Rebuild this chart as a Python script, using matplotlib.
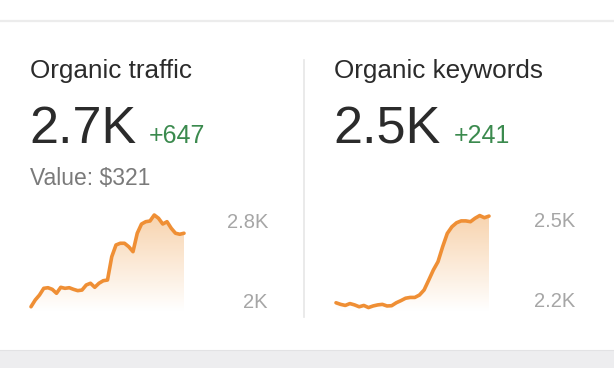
import matplotlib
matplotlib.use("Agg")
import matplotlib.pyplot as plt
import numpy as np
from matplotlib.colors import LinearSegmentedColormap

plt.rcParams['font.family'] = ['Liberation Sans', 'DejaVu Sans']

# organic traffic sparkline
traffic = [1963, 2030, 2079, 2145, 2151, 2135, 2096, 2155, 2145, 2151,
           2135, 2122, 2128, 2178, 2195, 2155, 2195, 2220, 2227, 2457,
           2573, 2590, 2590, 2556, 2507, 2689, 2780, 2803, 2810, 2869,
           2837, 2780, 2803, 2738, 2689, 2679, 2689]
traffic_ticks = [2800, 2000]
traffic_tick_labels = ["2.8K", "2K"]

# organic keywords sparkline
keywords = [2196, 2190, 2186, 2193, 2188, 2181, 2186, 2178, 2184, 2188,
            2190, 2184, 2185, 2196, 2204, 2213, 2216, 2216, 2225, 2244,
            2281, 2319, 2350, 2406, 2456, 2481, 2496, 2503, 2503, 2500,
            2513, 2523, 2515, 2521]
keyword_ticks = [2500, 2200]
keyword_tick_labels = ["2.5K", "2.2K"]

titles = ["Organic traffic", "Organic keywords"]
totals = ["2.7K", "2.5K"]
changes = ["+647", "+241"]
value_label = "Value: $321"

W, H = 614, 368
fig = plt.figure(figsize=(W / 100, H / 100), dpi=100)
fig.patch.set_facecolor("white")


def px(x, y):
    # pixel coords (top-left origin) -> figure fraction
    return x / W, 1 - y / H


def add_ax(x0, y0, x1, y1):
    return fig.add_axes([x0 / W, 1 - y1 / H, (x1 - x0) / W, (y1 - y0) / H])


# background pieces
bg = fig.add_axes([0, 0, 1, 1], zorder=-5)
bg.set_xlim(0, W)
bg.set_ylim(H, 0)
bg.axis("off")
bg.axhline(20.5, color="#ececec", lw=1.6)
bg.axhspan(350, H, color="#ededef", lw=0)
bg.axhline(350, color="#e2e2e4", lw=0.8)
bg.plot([304, 304], [60, 317], color="#e6e6e6", lw=1.2)

orange = "#ef8f35"
fade = LinearSegmentedColormap.from_list("fade", ["#ffffff", "#f8d4af"])


def spark(ax, vals, ticks, labels, ylim, label_x):
    x = np.arange(len(vals))
    ax.set_xlim(0, len(vals) - 1)
    ax.set_ylim(*ylim)
    ax.axis("off")
    poly = ax.fill_between(x, vals, ylim[0], color="none", lw=0)
    grad = np.linspace(0, 1, 200).reshape(-1, 1)
    img = ax.imshow(grad, cmap=fade, aspect="auto", origin="lower",
                    extent=[0, len(vals) - 1, ylim[0] + (ylim[1] - ylim[0]) * 0.08, max(vals)],
                    zorder=1)
    img.set_clip_path(poly.get_paths()[0], transform=ax.transData)
    ax.plot(x, vals, color=orange, lw=2.6, solid_capstyle="round",
            solid_joinstyle="round", zorder=3, clip_on=False)
    for t, lab in zip(ticks, labels):
        ax.text(label_x, t, lab, transform=ax.get_yaxis_transform(),
                ha="right", va="center", fontsize=14.5, color="#a6a6a6")


ax1 = add_ax(31, 205, 184, 320)
spark(ax1, traffic, traffic_ticks, traffic_tick_labels,
      (2000 - 17 * 800 / 81, 2000 + 98 * 800 / 81), (268 - 31) / (184 - 31))

ax2 = add_ax(336, 205, 489, 320)
spark(ax2, keywords, keyword_ticks, keyword_tick_labels,
      (2200 - 18.3 * 3.75, 2200 + 96.7 * 3.75), (575 - 336) / (489 - 336))

# header texts
for xs, xc, title, total, change in zip([30, 334], [149, 454], titles, totals, changes):
    fig.text(*px(xs, 78), title, fontsize=18.8, color="#2b2b2b", va="baseline")
    fig.text(*px(xs - 1, 143), total, fontsize=37.5, color="#2b2b2b", va="baseline")
    fig.text(*px(xc, 143), change, fontsize=18, color="#3b8a4e", va="baseline")

fig.text(*px(30, 185), value_label, fontsize=16.5, color="#7a7a7a", va="baseline")

fig.savefig("out.png", dpi=100, facecolor="white")
